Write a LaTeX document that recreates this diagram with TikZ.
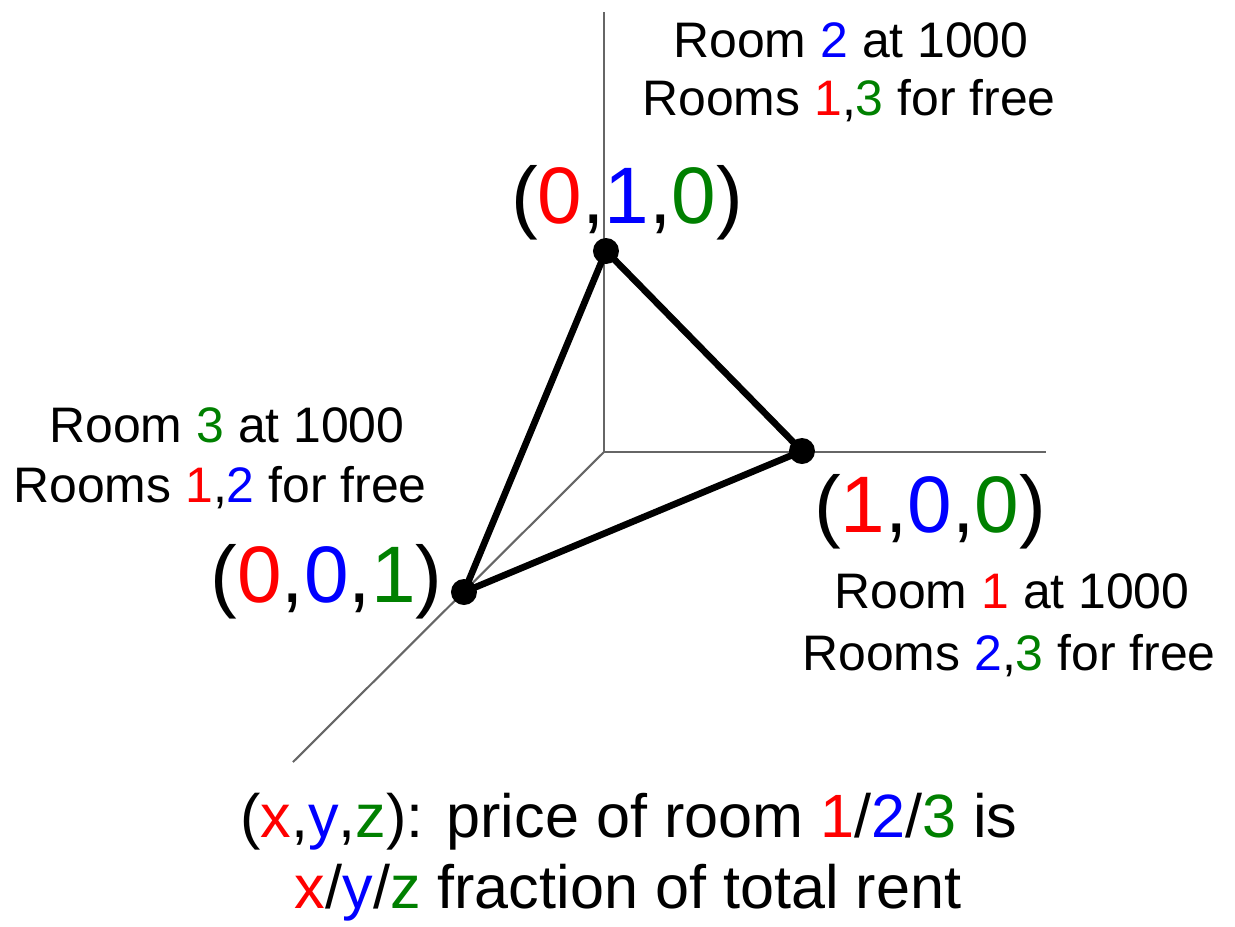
\documentclass[tikz,border=0pt]{standalone}
\usepackage{fontspec}
\setmainfont{Liberation Sans}
\definecolor{rmred}{RGB}{255,0,0}
\definecolor{rmblue}{RGB}{0,0,255}
\definecolor{rmgreen}{RGB}{0,128,0}
\newcommand{\rd}[1]{\textcolor{rmred}{#1}}
\newcommand{\bl}[1]{\textcolor{rmblue}{#1}}
\newcommand{\gn}[1]{\textcolor{rmgreen}{#1}}
\begin{document}
\begin{tikzpicture}[
    axis/.style={black!60, line width=0.6pt},
    edge/.style={black, line width=1.9pt, line join=round},
    lbl/.style={anchor=base, inner sep=0pt, font=\fontsize{14.2}{17}\selectfont},
    pt/.style={anchor=base, inner sep=0pt, font=\fontsize{22.8}{27}\selectfont},
    note/.style={anchor=base, inner sep=0pt, font=\fontsize{17.4}{21}\selectfont}]
    \useasboundingbox (-6.04,-4.74) rectangle (6.31,4.52);

    % 坐标轴
    \coordinate (O) at (0,0);
    \coordinate (ax) at (4.42,0);
    \coordinate (ay) at (0,4.40);
    \coordinate (az) at (-3.11,-3.10);
    \draw[axis] (O) -- (ax);
    \draw[axis] (O) -- (ay);
    \draw[axis] (O) -- (az);

    % 三角形
    \coordinate (P1) at (1.98,0.01);
    \coordinate (P2) at (0.02,2.01);
    \coordinate (P3) at (-1.40,-1.40);
    \draw[edge] (P1) -- (P2) -- (P3) -- cycle;
    \fill (P1) circle (0.13);
    \fill (P2) circle (0.13);
    \fill (P3) circle (0.13);

    % 顶点坐标
    \node[pt] (c1) at (3.26,-0.80) {(\rd{1},\bl{0},\gn{0})};
    \node[pt] (c2) at (0.23,2.29) {(\rd{0},\bl{1},\gn{0})};
    \node[pt] (c3) at (-2.775,-1.50) {(\rd{0},\bl{0},\gn{1})};

    % 说明
    \node[lbl] (r1a) at (4.08,-1.56) {Room \rd{1} at 1000};
    \node[lbl] (r1b) at (4.05,-2.18) {Rooms \bl{2},\gn{3} for free};
    \node[lbl] (r2a) at (2.47,3.95) {Room \bl{2} at 1000};
    \node[lbl] (r2b) at (2.45,3.37) {Rooms \rd{1},\gn{3} for free};
    \node[lbl] (r3a) at (-3.77,0.10) {Room \gn{3} at 1000};
    \node[lbl] (r3b) at (-3.84,-0.50) {Rooms \rd{1},\bl{2} for free};

    % 底部
    \node[note] (n1) at (0.25,-3.85) {(\rd{x},\bl{y},\gn{z}): price of room \rd{1}/\bl{2}/\gn{3} is};
    \node[note] (n2) at (0.24,-4.56) {\rd{x}/\bl{y}/\gn{z} fraction of total rent};
\end{tikzpicture}
\end{document}
